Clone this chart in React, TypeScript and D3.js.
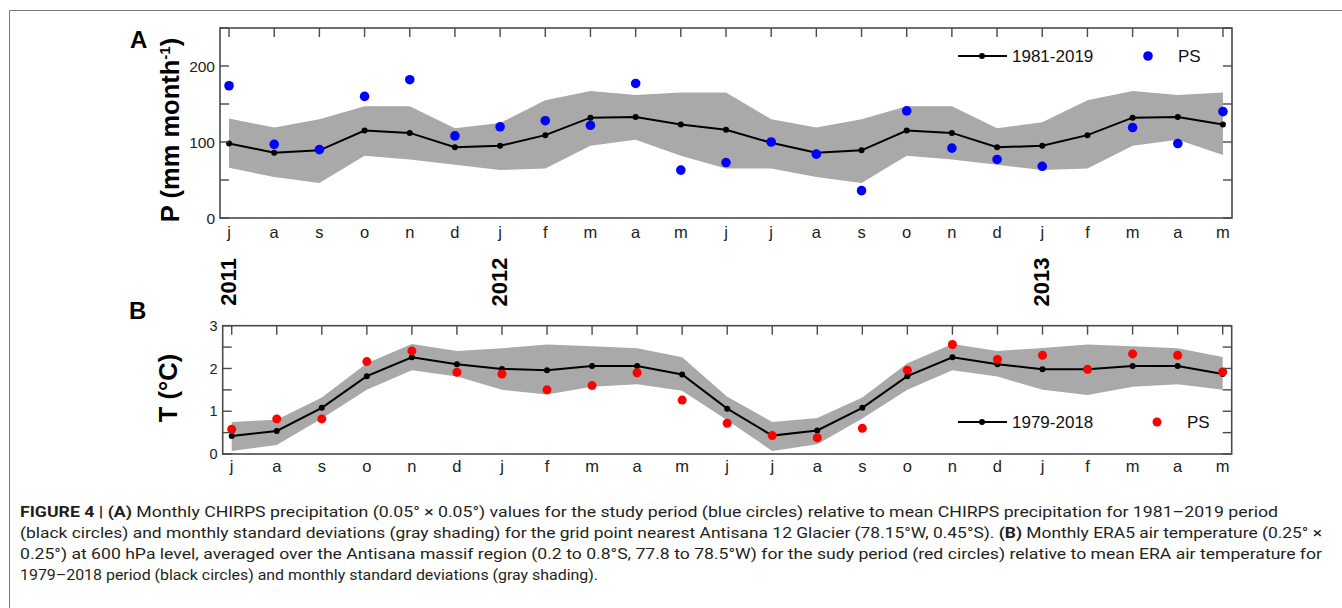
import React from 'react';
import * as d3 from 'd3';

const months = ['j', 'a', 's', 'o', 'n', 'd', 'j', 'f', 'm', 'a', 'm', 'j', 'j', 'a', 's', 'o', 'n', 'd', 'j', 'f', 'm', 'a', 'm'];
const years = [{ label: '2011', idx: 0 }, { label: '2012', idx: 6 }, { label: '2013', idx: 18 }];

// Panel A: precipitation (mm month-1)
const pMean = [98, 86, 89, 115, 112, 93, 95, 109, 132, 133, 123, 116, 99, 86, 89, 115, 112, 93, 95, 109, 132, 133, 123];
const pUpper = [131, 119, 130, 147, 147, 118, 125, 155, 167, 162, 165, 165, 130, 119, 130, 147, 147, 118, 126, 155, 167, 162, 165];
const pLower = [66, 54, 46, 82, 77, 70, 63, 65, 95, 103, 82, 65, 65, 54, 46, 82, 77, 70, 63, 65, 95, 103, 83];
const pPS: (number | null)[] = [174, 97, 90, 160, 182, 108, 120, 128, 122, 177, 63, 73, 100, 84, 36, 141, 92, 77, 68, null, 119, 98, 140];
const pTicks = [0, 50, 100, 150, 200, 250];
const pLabels = [0, 100, 200];

// Panel B: air temperature (°C)
const tMean = [0.42, 0.54, 1.08, 1.82, 2.26, 2.10, 1.99, 1.96, 2.06, 2.06, 1.86, 1.06, 0.43, 0.55, 1.08, 1.82, 2.26, 2.10, 1.98, 1.98, 2.06, 2.06, 1.87];
const tUpper = [0.75, 0.80, 1.32, 2.12, 2.57, 2.41, 2.47, 2.56, 2.52, 2.47, 2.26, 1.34, 0.75, 0.84, 1.32, 2.12, 2.57, 2.41, 2.48, 2.56, 2.52, 2.47, 2.27];
const tLower = [0.07, 0.21, 0.83, 1.50, 1.96, 1.81, 1.50, 1.39, 1.57, 1.63, 1.48, 0.79, 0.07, 0.23, 0.83, 1.50, 1.96, 1.81, 1.50, 1.38, 1.57, 1.63, 1.50];
const tPS = [0.58, 0.82, 0.82, 2.16, 2.41, 1.91, 1.87, 1.50, 1.60, 1.90, 1.26, 0.72, 0.43, 0.38, 0.60, 1.96, 2.56, 2.21, 2.31, 1.98, 2.34, 2.31, 1.92];
const tTicks = [0, 0.5, 1, 1.5, 2, 2.5, 3];
const tLabels = [0, 1, 2, 3];

const FONT = '"Liberation Sans", Arial, sans-serif';
const BAND = '#a9a9a9';
const FRAME = '#4a4a4a';

type PanelProps = {
  left: number; right: number; top: number; bottom: number;
  yMax: number; ticks: number[]; labels: number[];
  mean: number[]; upper: number[]; lower: number[]; ps: (number | null)[];
  psColor: string; psR: number;
  legendY: number; legendText: string; psDotX: number; psTextX: number;
  monthY: number; tickFont: number;
};

function Panel(p: PanelProps) {
  const x = d3.scaleLinear().domain([-0.2, months.length - 0.8]).range([p.left, p.right]);
  const y = d3.scaleLinear().domain([0, p.yMax]).range([p.bottom, p.top]);
  const idx = d3.range(months.length);

  const area = d3.area<number>()
    .x(i => x(i))
    .y0(i => y(p.lower[i]))
    .y1(i => y(p.upper[i]));
  const line = d3.line<number>()
    .x(i => x(i))
    .y(i => y(p.mean[i]));

  return (
    <g>
      <path d={area(idx) || ''} fill={BAND} />
      <path d={line(idx) || ''} fill="none" stroke="#000" strokeWidth={2} />
      {idx.map(i => <circle key={'m' + i} cx={x(i)} cy={y(p.mean[i])} r={3} fill="#000" />)}
      {idx.filter(i => p.ps[i] != null).map(i => (
        <circle key={'p' + i} cx={x(i)} cy={y(p.ps[i] as number)} r={p.psR} fill={p.psColor} />
      ))}

      {/* frame */}
      <rect x={p.left} y={p.top} width={p.right - p.left} height={p.bottom - p.top}
        fill="none" stroke={FRAME} strokeWidth={1.6} />
      {idx.map(i => (
        <line key={'tt' + i} x1={x(i)} x2={x(i)} y1={p.top} y2={p.top + 9} stroke={FRAME} strokeWidth={1.4} />
      ))}
      {p.ticks.map(t => (
        <g key={'yt' + t}>
          <line x1={p.left} x2={p.left + 9} y1={y(t)} y2={y(t)} stroke={FRAME} strokeWidth={1.4} />
          <line x1={p.right - 9} x2={p.right} y1={y(t)} y2={y(t)} stroke={FRAME} strokeWidth={1.4} />
        </g>
      ))}
      {p.labels.map(t => (
        <text key={'yl' + t} x={p.left - 5} y={y(t)} dy="0.36em" textAnchor="end"
          fontFamily={FONT} fontSize={p.tickFont} fill="#222">{t}</text>
      ))}
      {months.map((m, i) => (
        <text key={'ml' + i} x={x(i)} y={p.monthY} textAnchor="middle"
          fontFamily={FONT} fontSize={16.5} fill="#222">{m}</text>
      ))}

      {/* legend */}
      <line x1={958} x2={1007} y1={p.legendY} y2={p.legendY} stroke="#000" strokeWidth={2} />
      <circle cx={982} cy={p.legendY} r={3} fill="#000" />
      <text x={1012} y={p.legendY} dy="0.36em" fontFamily={FONT} fontSize={17} fill="#111">{p.legendText}</text>
      <circle cx={p.psDotX} cy={p.legendY} r={p.psR} fill={p.psColor} />
      <text x={p.psTextX} y={p.legendY} dy="0.36em" fontFamily={FONT} fontSize={17} fill="#111">PS</text>
    </g>
  );
}

export default function App() {
  const W = 1342;
  const H = 608;
  const xA = d3.scaleLinear().domain([-0.2, months.length - 0.8]).range([220, 1232]);

  return (
    <svg width={W} height={H} style={{ position: 'absolute', left: 0, top: 0, background: '#fff' }}>
      <rect x={0} y={0} width={W} height={H} fill="#fff" />
      <path d={`M9.5,${H} V10.5 H${W}`} fill="none" stroke="#777" strokeWidth={1} />

      <Panel left={220} right={1232} top={28} bottom={218} yMax={250}
        ticks={pTicks} labels={pLabels} mean={pMean} upper={pUpper} lower={pLower} ps={pPS}
        psColor="#0000ff" psR={4.8} legendY={56} legendText="1981-2019" psDotX={1148} psTextX={1178}
        monthY={238} tickFont={15.5} />
      <Panel left={222.7} right={1231.7} top={325.7} bottom={454} yMax={3}
        ticks={tTicks} labels={tLabels} mean={tMean} upper={tUpper} lower={tLower} ps={tPS}
        psColor="#ff0000" psR={4.5} legendY={422} legendText="1979-2018" psDotX={1157} psTextX={1187}
        monthY={472} tickFont={14.5} />

      {/* panel letters and axis titles */}
      <text x={130} y={48} fontFamily={FONT} fontWeight="bold" fontSize={24} fill="#000">A</text>
      <text x={129} y={319} fontFamily={FONT} fontWeight="bold" fontSize={24} fill="#000">B</text>
      <text transform="translate(170,130) rotate(-90)" textAnchor="middle" dy="0.36em"
        fontFamily={FONT} fontWeight="bold" fontSize={25.5} fill="#000">
        P (mm month<tspan dy="-9" fontSize={15}>-1</tspan><tspan dy="9">)</tspan>
      </text>
      <text transform="translate(168,388) rotate(-90)" textAnchor="middle" dy="0.36em"
        fontFamily={FONT} fontWeight="bold" fontSize={25.5} fill="#000">T (°C)</text>

      {years.map(yr => (
        <text key={yr.label} transform={`translate(${xA(yr.idx) - 1},282) rotate(-90)`} textAnchor="middle" dy="0.36em"
          fontFamily={FONT} fontWeight="bold" fontSize={22} fill="#000">{yr.label}</text>
      ))}

      {/* caption */}
      <g fontFamily="Roboto, sans-serif" fontSize={15.5} fill="#231f20">
        <text x={20} y={517} textLength={1258} lengthAdjust="spacingAndGlyphs">
          <tspan fontWeight="bold">FIGURE 4 | (A)</tspan> Monthly CHIRPS precipitation (0.05° × 0.05°) values for the study period (blue circles) relative to mean CHIRPS precipitation for 1981–2019 period
        </text>
        <text x={20} y={538} textLength={1302} lengthAdjust="spacingAndGlyphs">
          (black circles) and monthly standard deviations (gray shading) for the grid point nearest Antisana 12 Glacier (78.15°W, 0.45°S). <tspan fontWeight="bold">(B)</tspan> Monthly ERA5 air temperature (0.25° ×
        </text>
        <text x={20} y={559} textLength={1302} lengthAdjust="spacingAndGlyphs">
          0.25°) at 600 hPa level, averaged over the Antisana massif region (0.2 to 0.8°S, 77.8 to 78.5°W) for the sudy period (red circles) relative to mean ERA air temperature for
        </text>
        <text x={20} y={580} textLength={578} lengthAdjust="spacingAndGlyphs">
          1979–2018 period (black circles) and monthly standard deviations (gray shading).
        </text>
      </g>
    </svg>
  );
}
